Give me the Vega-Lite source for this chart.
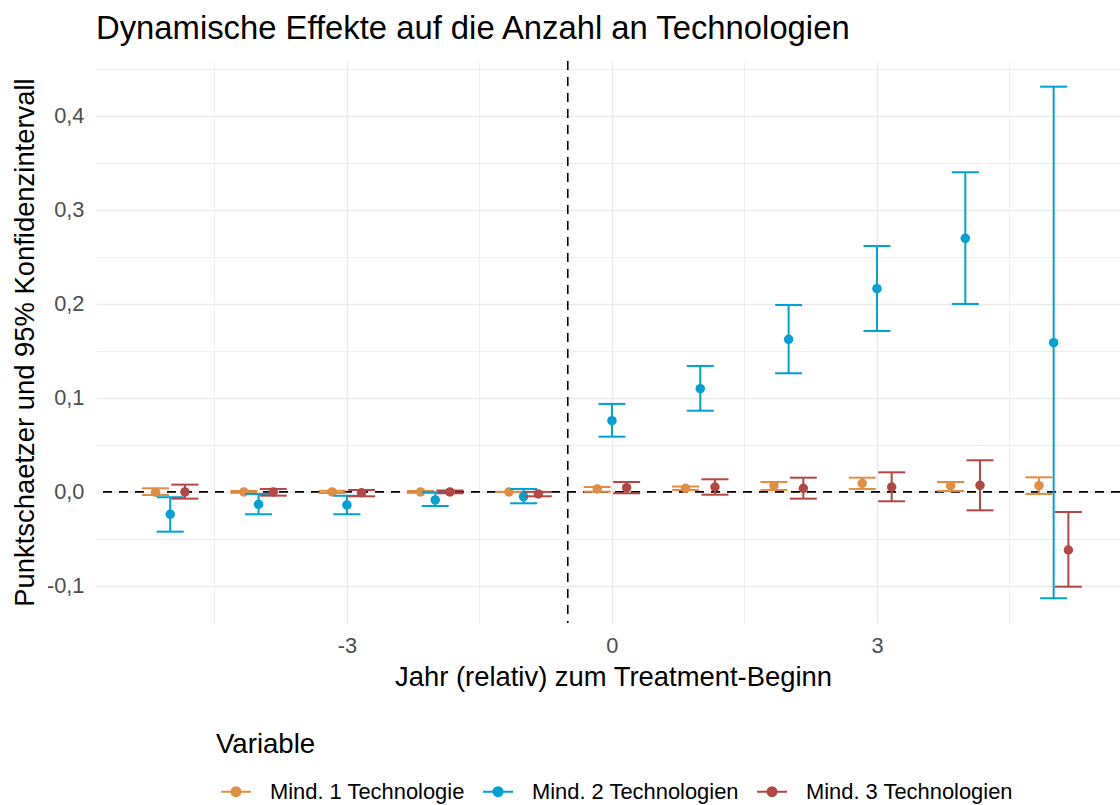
{
  "$schema": "https://vega.github.io/schema/vega-lite/v6.json",
  "width": 1024,
  "height": 562,
  "autosize": {"type": "none"},
  "padding": {"left": 96, "top": 61, "right": 0, "bottom": 182},
  "background": "white",
  "config": {"view": {"stroke": null}, "font": "Liberation Sans"},
  "title": {"text": "Dynamische Effekte auf die Anzahl an Technologien", "anchor": "start", "frame": "group", "fontSize": 32.8, "fontWeight": "normal", "color": "black", "font": "Liberation Sans", "offset": 13},
  "datasets": {
    "est": [
      {"var": "Mind. 1 Technologie", "jahr": -5, "est": -0.0003, "lo": -0.0033, "hi": 0.0038},
      {"var": "Mind. 1 Technologie", "jahr": -4, "est": 0, "lo": -0.001, "hi": 0.001},
      {"var": "Mind. 1 Technologie", "jahr": -3, "est": 0, "lo": -0.0012, "hi": 0.0012},
      {"var": "Mind. 1 Technologie", "jahr": -2, "est": 0, "lo": -0.001, "hi": 0.001},
      {"var": "Mind. 1 Technologie", "jahr": -1, "est": 0, "lo": 0, "hi": 0},
      {"var": "Mind. 1 Technologie", "jahr": 0, "est": 0.0031, "lo": 0.0002, "hi": 0.0052},
      {"var": "Mind. 1 Technologie", "jahr": 1, "est": 0.0038, "lo": 0.002, "hi": 0.0057},
      {"var": "Mind. 1 Technologie", "jahr": 2, "est": 0.0066, "lo": 0.002, "hi": 0.0105},
      {"var": "Mind. 1 Technologie", "jahr": 3, "est": 0.0091, "lo": 0.0031, "hi": 0.0151},
      {"var": "Mind. 1 Technologie", "jahr": 4, "est": 0.0066, "lo": 0.001, "hi": 0.0105},
      {"var": "Mind. 1 Technologie", "jahr": 5, "est": 0.0066, "lo": -0.0022, "hi": 0.0155},
      {"var": "Mind. 2 Technologien", "jahr": -5, "est": -0.0238, "lo": -0.0423, "hi": -0.0057},
      {"var": "Mind. 2 Technologien", "jahr": -4, "est": -0.0132, "lo": -0.0238, "hi": -0.0022},
      {"var": "Mind. 2 Technologien", "jahr": -3, "est": -0.0139, "lo": -0.0238, "hi": -0.004},
      {"var": "Mind. 2 Technologien", "jahr": -2, "est": -0.0086, "lo": -0.015, "hi": -0.0004},
      {"var": "Mind. 2 Technologien", "jahr": -1, "est": -0.0051, "lo": -0.0121, "hi": 0.0031},
      {"var": "Mind. 2 Technologien", "jahr": 0, "est": 0.0757, "lo": 0.0587, "hi": 0.0935},
      {"var": "Mind. 2 Technologien", "jahr": 1, "est": 0.1097, "lo": 0.0863, "hi": 0.1339},
      {"var": "Mind. 2 Technologien", "jahr": 2, "est": 0.1622, "lo": 0.1261, "hi": 0.1987},
      {"var": "Mind. 2 Technologien", "jahr": 3, "est": 0.216, "lo": 0.1711, "hi": 0.2614},
      {"var": "Mind. 2 Technologien", "jahr": 4, "est": 0.2696, "lo": 0.1998, "hi": 0.3398},
      {"var": "Mind. 2 Technologien", "jahr": 5, "est": 0.1586, "lo": -0.1131, "hi": 0.4308},
      {"var": "Mind. 3 Technologien", "jahr": -5, "est": 0, "lo": -0.0072, "hi": 0.0077},
      {"var": "Mind. 3 Technologien", "jahr": -4, "est": 0, "lo": -0.004, "hi": 0.0031},
      {"var": "Mind. 3 Technologien", "jahr": -3, "est": -0.0009, "lo": -0.0047, "hi": 0.002},
      {"var": "Mind. 3 Technologien", "jahr": -2, "est": 0, "lo": -0.0015, "hi": 0.0015},
      {"var": "Mind. 3 Technologien", "jahr": -1, "est": -0.0022, "lo": -0.0047, "hi": 0},
      {"var": "Mind. 3 Technologien", "jahr": 0, "est": 0.0045, "lo": -0.0015, "hi": 0.0105},
      {"var": "Mind. 3 Technologien", "jahr": 1, "est": 0.0052, "lo": -0.003, "hi": 0.0134},
      {"var": "Mind. 3 Technologien", "jahr": 2, "est": 0.0038, "lo": -0.0072, "hi": 0.0151},
      {"var": "Mind. 3 Technologien", "jahr": 3, "est": 0.0052, "lo": -0.01, "hi": 0.0208},
      {"var": "Mind. 3 Technologien", "jahr": 4, "est": 0.007, "lo": -0.0196, "hi": 0.0336},
      {"var": "Mind. 3 Technologien", "jahr": 5, "est": -0.0618, "lo": -0.1008, "hi": -0.0214}
    ]
  },
  "data": {"name": "est"},
  "layer": [
    {
      "data": {"values": [{"est": 0}]},
      "mark": {"type": "rule", "color": "black", "strokeWidth": 1.6, "strokeDash": [9, 7]},
      "encoding": {
        "y": {
          "field": "est", "type": "quantitative",
          "title": "Punktschaetzer und 95% Konfidenzintervall",
          "scale": {"domain": [-0.1394, 0.4581], "nice": false, "zero": false},
          "axis": {
            "values": [-0.1, -0.05, 0, 0.05, 0.1, 0.15, 0.2, 0.25, 0.3, 0.35, 0.4, 0.45],
            "labelExpr": "abs(round(datum.value*20)) % 2 === 0 ? (datum.value < 0 ? '-' : '') + replace(format(abs(datum.value), '.1f'), '.', ',') : ''",
            "domain": false, "ticks": false, "tickSize": 0,
            "labelPadding": 12, "labelFontSize": 21.8, "labelColor": "#4D4D4D", "labelFont": "Liberation Sans",
            "labelOverlap": false, "labelFlush": false,
            "titleFontSize": 27.4, "titleFontWeight": "normal", "titleColor": "black", "titleFont": "Liberation Sans", "titlePadding": 7,
            "gridColor": "#EBEBEB",
            "gridWidth": {"condition": {"test": "abs(round(datum.value*20)) % 2 === 0", "value": 1.5}, "value": 0.8}
          }
        }
      }
    },
    {
      "data": {"values": [{"jahr": -0.5}]},
      "mark": {"type": "rule", "color": "black", "strokeWidth": 1.6, "strokeDash": [9, 7]},
      "encoding": {
        "x": {
          "field": "jahr", "type": "quantitative",
          "title": "Jahr (relativ) zum Treatment-Beginn",
          "scale": {"domain": [-5.84, 5.751], "nice": false, "zero": false},
          "axis": {
            "values": [-4.5, -3, -1.5, 0, 1.5, 3, 4.5],
            "labelExpr": "datum.value % 3 === 0 ? (datum.value < 0 ? '-' : '') + abs(datum.value) : ''",
            "domain": false, "ticks": false, "tickSize": 0,
            "labelPadding": 12, "labelFontSize": 21.8, "labelColor": "#4D4D4D", "labelFont": "Liberation Sans",
            "labelOverlap": false, "labelFlush": false,
            "titleFontSize": 27.4, "titleFontWeight": "normal", "titleColor": "black", "titleFont": "Liberation Sans",
            "titleX": 517, "titleY": 40, "titleBaseline": "top", "titleAlign": "center",
            "gridColor": "#EBEBEB",
            "gridWidth": {"condition": {"test": "datum.value % 3 === 0", "value": 1.5}, "value": 0.8}
          }
        }
      }
    },
    {
      "transform": [{"filter": {"field": "var", "equal": "Mind. 1 Technologie"}}],
      "layer": [
        {"mark": {"type": "rule", "strokeWidth": 2, "xOffset": -14.7},
         "encoding": {"x": {"field": "jahr", "type": "quantitative", "title": "Jahr (relativ) zum Treatment-Beginn"}, "y": {"field": "lo", "type": "quantitative", "title": "Punktschaetzer und 95% Konfidenzintervall"}, "y2": {"field": "hi"},
           "color": {"field": "var", "type": "nominal", "scale": {"domain": ["Mind. 1 Technologie", "Mind. 2 Technologien", "Mind. 3 Technologien"], "range": ["#DF8F44", "#00A1D5", "#B24745"]}}}},
        {"mark": {"type": "tick", "orient": "horizontal", "size": 27, "thickness": 2, "opacity": 1, "xOffset": -14.7},
         "encoding": {"x": {"field": "jahr", "type": "quantitative", "title": "Jahr (relativ) zum Treatment-Beginn"}, "y": {"field": "lo", "type": "quantitative", "title": "Punktschaetzer und 95% Konfidenzintervall"}, "color": {"field": "var", "type": "nominal"}}},
        {"mark": {"type": "tick", "orient": "horizontal", "size": 27, "thickness": 2, "opacity": 1, "xOffset": -14.7},
         "encoding": {"x": {"field": "jahr", "type": "quantitative", "title": "Jahr (relativ) zum Treatment-Beginn"}, "y": {"field": "hi", "type": "quantitative", "title": "Punktschaetzer und 95% Konfidenzintervall"}, "color": {"field": "var", "type": "nominal"}}},
        {"mark": {"type": "point", "filled": true, "size": 90, "opacity": 1, "xOffset": -14.7},
         "encoding": {"x": {"field": "jahr", "type": "quantitative", "title": "Jahr (relativ) zum Treatment-Beginn"}, "y": {"field": "est", "type": "quantitative", "title": "Punktschaetzer und 95% Konfidenzintervall"},
           "color": {"field": "var", "type": "nominal",
             "legend": {
               "orient": "none", "legendX": 120, "legendY": 670, "direction": "horizontal",
               "title": "Variable", "titleOrient": "top", "titleFontSize": 27.6, "titleFontWeight": "normal", "titleColor": "black", "titleFont": "Liberation Sans", "titlePadding": 17, "titleLimit": 0,
               "labelFontSize": 21.9, "labelColor": "black", "labelFont": "Liberation Sans", "labelOffset": 18, "columnPadding": 13, "labelLimit": 0,
               "symbolType": "M-1,0H1M0.3,0A0.3,0.3 0 1,1 -0.3,0A0.3,0.3 0 1,1 0.3,0Z", "symbolSize": 900, "symbolStrokeWidth": 2, "symbolOffset": 4, "padding": 0,
               "encode": {"symbols": {"update": {"fill": {"scale": "color", "field": "value"}, "stroke": {"scale": "color", "field": "value"}, "strokeWidth": {"value": 2}, "opacity": {"value": 1}}}}
             }}}}
      ]
    },
    {
      "transform": [{"filter": {"field": "var", "equal": "Mind. 2 Technologien"}}],
      "layer": [
        {"mark": {"type": "rule", "strokeWidth": 2, "xOffset": 0},
         "encoding": {"x": {"field": "jahr", "type": "quantitative", "title": "Jahr (relativ) zum Treatment-Beginn"}, "y": {"field": "lo", "type": "quantitative", "title": "Punktschaetzer und 95% Konfidenzintervall"}, "y2": {"field": "hi"}, "color": {"field": "var", "type": "nominal"}}},
        {"mark": {"type": "tick", "orient": "horizontal", "size": 27, "thickness": 2, "opacity": 1, "xOffset": 0},
         "encoding": {"x": {"field": "jahr", "type": "quantitative", "title": "Jahr (relativ) zum Treatment-Beginn"}, "y": {"field": "lo", "type": "quantitative", "title": "Punktschaetzer und 95% Konfidenzintervall"}, "color": {"field": "var", "type": "nominal"}}},
        {"mark": {"type": "tick", "orient": "horizontal", "size": 27, "thickness": 2, "opacity": 1, "xOffset": 0},
         "encoding": {"x": {"field": "jahr", "type": "quantitative", "title": "Jahr (relativ) zum Treatment-Beginn"}, "y": {"field": "hi", "type": "quantitative", "title": "Punktschaetzer und 95% Konfidenzintervall"}, "color": {"field": "var", "type": "nominal"}}},
        {"mark": {"type": "point", "filled": true, "size": 90, "opacity": 1, "xOffset": 0},
         "encoding": {"x": {"field": "jahr", "type": "quantitative", "title": "Jahr (relativ) zum Treatment-Beginn"}, "y": {"field": "est", "type": "quantitative", "title": "Punktschaetzer und 95% Konfidenzintervall"}, "color": {"field": "var", "type": "nominal"}}}
      ]
    },
    {
      "transform": [{"filter": {"field": "var", "equal": "Mind. 3 Technologien"}}],
      "layer": [
        {"mark": {"type": "rule", "strokeWidth": 2, "xOffset": 14.7},
         "encoding": {"x": {"field": "jahr", "type": "quantitative", "title": "Jahr (relativ) zum Treatment-Beginn"}, "y": {"field": "lo", "type": "quantitative", "title": "Punktschaetzer und 95% Konfidenzintervall"}, "y2": {"field": "hi"}, "color": {"field": "var", "type": "nominal"}}},
        {"mark": {"type": "tick", "orient": "horizontal", "size": 27, "thickness": 2, "opacity": 1, "xOffset": 14.7},
         "encoding": {"x": {"field": "jahr", "type": "quantitative", "title": "Jahr (relativ) zum Treatment-Beginn"}, "y": {"field": "lo", "type": "quantitative", "title": "Punktschaetzer und 95% Konfidenzintervall"}, "color": {"field": "var", "type": "nominal"}}},
        {"mark": {"type": "tick", "orient": "horizontal", "size": 27, "thickness": 2, "opacity": 1, "xOffset": 14.7},
         "encoding": {"x": {"field": "jahr", "type": "quantitative", "title": "Jahr (relativ) zum Treatment-Beginn"}, "y": {"field": "hi", "type": "quantitative", "title": "Punktschaetzer und 95% Konfidenzintervall"}, "color": {"field": "var", "type": "nominal"}}},
        {"mark": {"type": "point", "filled": true, "size": 90, "opacity": 1, "xOffset": 14.7},
         "encoding": {"x": {"field": "jahr", "type": "quantitative", "title": "Jahr (relativ) zum Treatment-Beginn"}, "y": {"field": "est", "type": "quantitative", "title": "Punktschaetzer und 95% Konfidenzintervall"}, "color": {"field": "var", "type": "nominal"}}}
      ]
    }
  ]
}
